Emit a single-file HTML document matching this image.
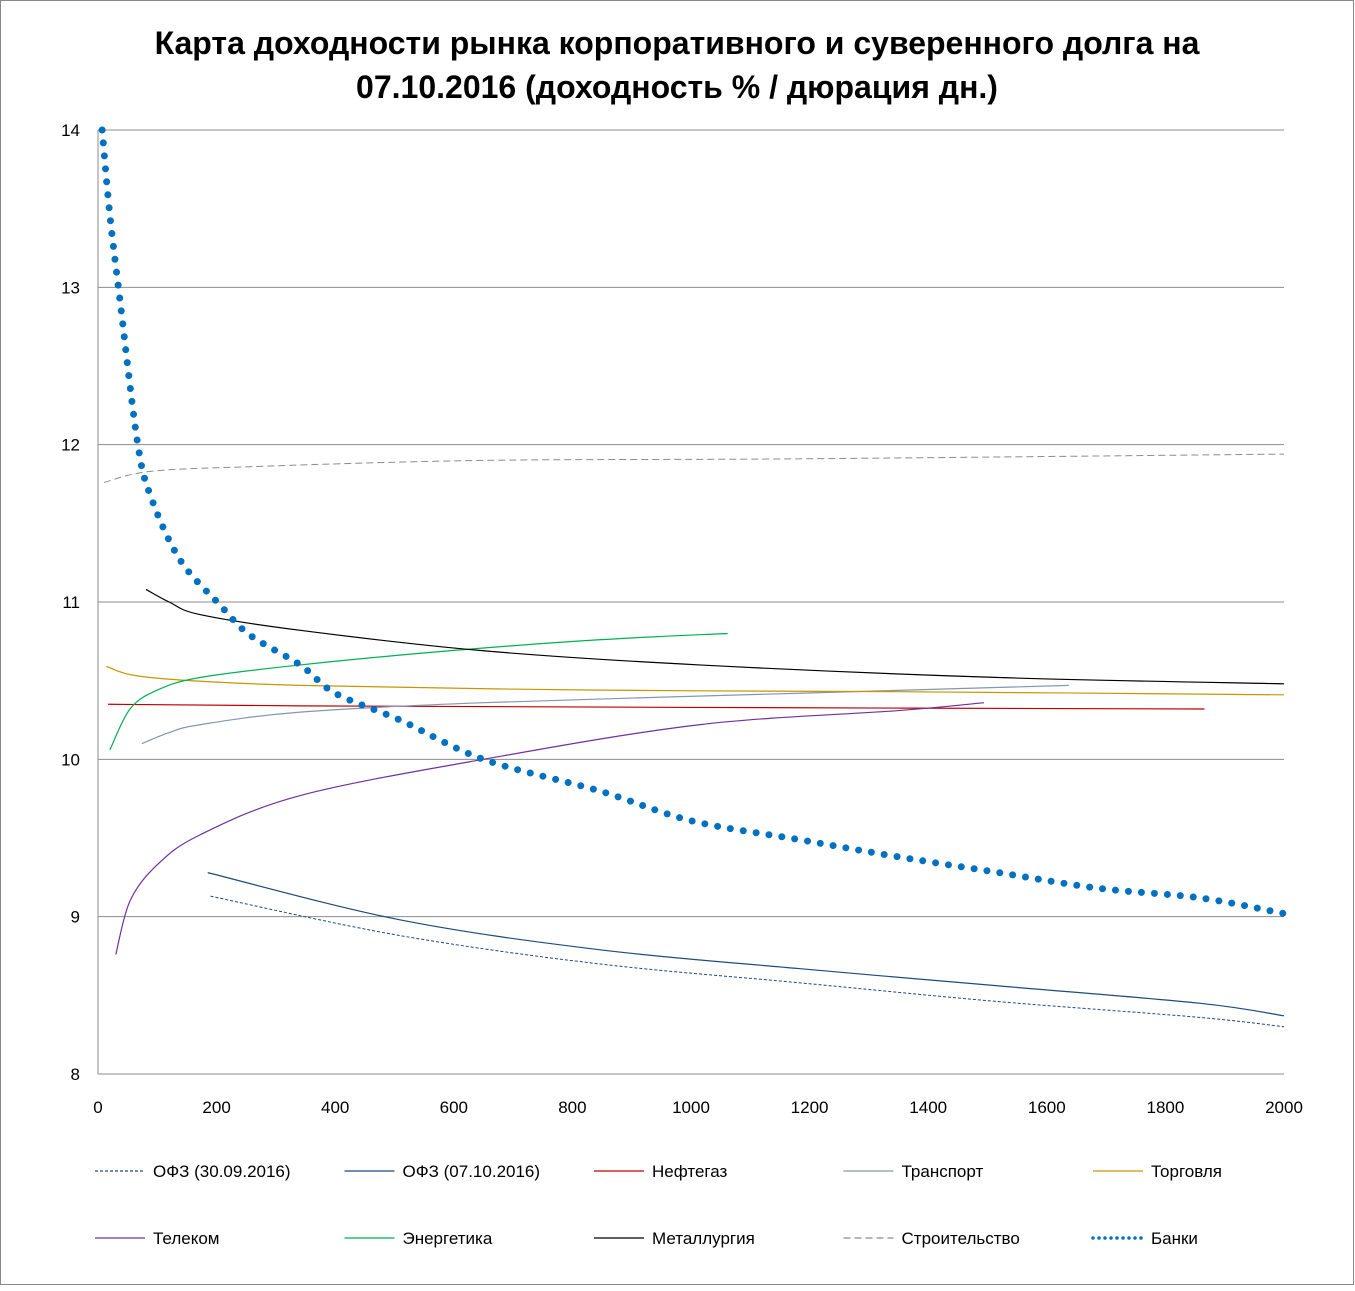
<!DOCTYPE html>
<html><head><meta charset="utf-8"><style>
body{margin:0;background:#fff;font-family:"Liberation Sans","DejaVu Sans",sans-serif}
</style></head><body>
<svg id="chart" width="1355" height="1286" xmlns="http://www.w3.org/2000/svg">
<rect x="0.5" y="0.5" width="1353" height="1284" fill="#fff" stroke="#888"/>
<text x="677" y="54" text-anchor="middle" font-size="32" font-weight="bold">Карта доходности рынка корпоративного и суверенного долга на</text>
<text x="677" y="98" text-anchor="middle" font-size="32" font-weight="bold">07.10.2016 (доходность % / дюрация дн.)</text>
<g id="grid"></g>
<g id="series"></g>
<g id="legend"></g>
</svg>
<script>
const yTicks=[8,9,10,11,12,13,14];
const xTicks=[0,200,400,600,800,1000,1200,1400,1600,1800,2000];
const ofz3009X=[190,509,845,1182,1519,1857,2000];
const ofz3009Y=[9.13,8.88,8.70,8.58,8.46,8.36,8.30];
const ofz0710X=[185,509,845,1182,1519,1857,2000];
const ofz0710Y=[9.28,8.98,8.79,8.67,8.56,8.45,8.37];
const neftX=[17,341,1000,1866];
const neftY=[10.35,10.34,10.33,10.32];
const transX=[74,120,172,341,650,1182,1637];
const transY=[10.10,10.17,10.22,10.30,10.36,10.42,10.47];
const torgX=[14,88,341,845,1350,2000];
const torgY=[10.59,10.52,10.47,10.44,10.43,10.41];
const telX=[30,54,100,172,341,650,1014,1350,1494];
const telY=[8.76,9.1,9.33,9.52,9.77,10.0,10.22,10.31,10.36];
const enerX=[20,54,100,172,341,593,845,1062];
const enerY=[10.06,10.32,10.44,10.52,10.6,10.69,10.76,10.8];
const metX=[81,120,172,341,650,1014,1519,2000];
const metY=[11.08,11.0,10.92,10.82,10.69,10.6,10.52,10.48];
const stroiX=[10,88,256,650,1182,2000];
const stroiY=[11.76,11.83,11.86,11.9,11.91,11.94];
const bankX=[7,20,37,66,88,138,206,256,341,400,509,650,845,1000,1182,1350,1519,1688,1857,2000];
const bankY=[14,13.46,12.92,12.03,11.68,11.27,10.98,10.79,10.6,10.42,10.25,10.0,9.8,9.61,9.49,9.38,9.28,9.18,9.12,9.02];
const X0=98,X1=1284,Y0=1074,Y1=130;
const sx=v=>X0+(X1-X0)*v/2000, sy=v=>Y0-(Y0-Y1)*(v-8)/6;
const NS="http://www.w3.org/2000/svg";
function mk(t,a,p){const e=document.createElementNS(NS,t);for(const k in a)e.setAttribute(k,a[k]);p.appendChild(e);return e;}
const grid=document.getElementById('grid');
yTicks.forEach(t=>{
 const l=mk('line',{x1:X0,x2:X1,y1:sy(t),y2:sy(t),stroke:'#8c8c8c','stroke-width':1},grid);
 
 
 const tx=mk('text',{x:80,y:sy(t)+6,'text-anchor':'end','font-size':17},grid);tx.textContent=t;
 
 
});
xTicks.forEach(t=>{
 const tx=mk('text',{x:sx(t),y:1113,'text-anchor':'middle','font-size':17},grid);tx.textContent=t;
 
 
});
const ax=mk('line',{x1:X0,x2:X0,y1:Y1,y2:Y0,stroke:'#8c8c8c'},grid);


const series=[
 {n:'ОФЗ (30.09.2016)',x:ofz3009X,y:ofz3009Y,c:'#1f497d',w:1,d:'3 2'},
 {n:'ОФЗ (07.10.2016)',x:ofz0710X,y:ofz0710Y,c:'#1f497d',w:1.2,d:''},
 {n:'Нефтегаз',x:neftX,y:neftY,c:'#c00000',w:1.2,d:''},
 {n:'Транспорт',x:transX,y:transY,c:'#8496b0',w:1.2,d:''},
 {n:'Торговля',x:torgX,y:torgY,c:'#c89600',w:1.2,d:''},
 {n:'Телеком',x:telX,y:telY,c:'#7030a0',w:1.2,d:''},
 {n:'Энергетика',x:enerX,y:enerY,c:'#00b050',w:1.2,d:''},
 {n:'Металлургия',x:metX,y:metY,c:'#000000',w:1.2,d:''},
 {n:'Строительство',x:stroiX,y:stroiY,c:'#8c8c8c',w:1,d:'7 4'},
 {n:'Банки',x:bankX,y:bankY,c:'#0070c0',w:7,d:'0 13',cap:'round'}
];
function smooth(xs,ys){
 const p=xs.map((v,i)=>[sx(v),sy(ys[i])]);let d='M'+p[0][0]+','+p[0][1];
 for(let i=0;i<p.length-1;i++){const a=p[i-1]||p[i],b=p[i],c=p[i+1],e=p[i+2]||c;
  d+=' C'+(b[0]+(c[0]-a[0])/6)+','+(b[1]+(c[1]-a[1])/6)+' '+(c[0]-(e[0]-b[0])/6)+','+(c[1]-(e[1]-b[1])/6)+' '+c[0]+','+c[1];}
 return d;}
const sg=document.getElementById('series'),lg=document.getElementById('legend');
series.forEach((s,i)=>{
 const p=mk('path',{d:smooth(s.x,s.y),fill:'none',stroke:s.c,'stroke-width':s.w,'stroke-dasharray':s.d,'stroke-linecap':s.cap||'butt'},sg);
 
 
 const col=i%5,row=Math.floor(i/5);const lx=95+col*249.5,ly=1171+row*67;
 const g=mk('g',{},lg);
 
 
 mk('line',{x1:lx,x2:lx+50,y1:ly,y2:ly,stroke:s.c,'stroke-width':s.cap?3.5:1.2,'stroke-dasharray':s.cap?'0 6':s.d,'stroke-linecap':s.cap||'butt'},g);
 const t=mk('text',{x:lx+58,y:ly+6,'font-size':17},g);t.textContent=s.n;
});
</script>
</body></html>
